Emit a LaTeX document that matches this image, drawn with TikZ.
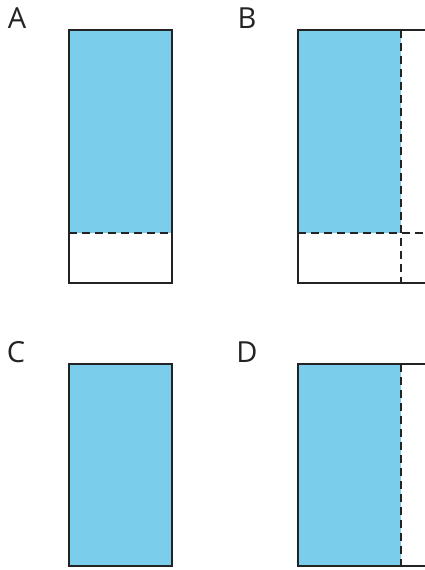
\documentclass[tikz,border=0pt]{standalone}
\usepackage{fontspec}
\setmainfont{Open Sans}
\definecolor{fillblue}{RGB}{122,206,235}
\definecolor{linegray}{RGB}{35,35,35}
\begin{document}
\begin{tikzpicture}[x=1pt,y=-1pt,
  solidline/.style={draw=linegray,line width=1.8pt},
  dashline/.style={draw=linegray,line width=1.8pt,dash pattern=on 8pt off 5pt},
  letter/.style={font=\fontsize{29}{30}\selectfont,text=linegray,inner sep=0pt}]
\useasboundingbox (0,0) rectangle (425,570);
% A
\fill[fillblue] (69,30) rectangle (172,233);
\draw[dashline] (69,233) -- (172,233);
\draw[solidline] (69,30) rectangle (172,283);
\node[letter] (la) at (17,18) {A};
% B
\fill[fillblue] (298,30) rectangle (401,233);
\draw[dashline] (298,233) -- (430,233);
\draw[dashline] (401,30) -- (401,283);
\draw[solidline] (430,30) -- (298,30) -- (298,283) -- (430,283);
\node[letter] (lb) at (247,18) {B};
% C
\fill[fillblue] (69,364) rectangle (172,566);
\draw[solidline] (69,364) rectangle (172,566);
\node[letter] (lc) at (16,352) {C};
% D
\fill[fillblue] (298,364) rectangle (401,566);
\draw[dashline] (401,364) -- (401,566);
\draw[solidline] (430,364) -- (298,364) -- (298,566) -- (430,566);
\node[letter] (ld) at (247,352) {D};
\end{tikzpicture}
\end{document}
